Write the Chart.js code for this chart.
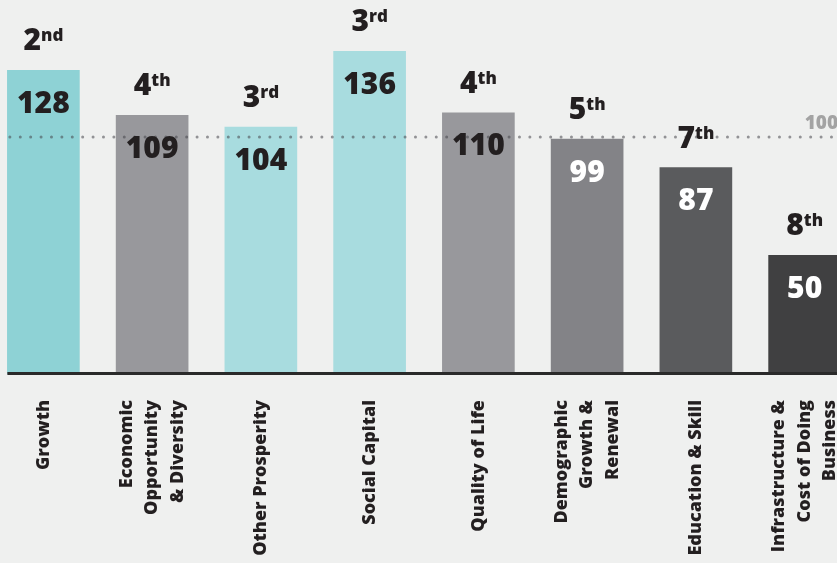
<!DOCTYPE html>
<html>
<head>
<meta charset="utf-8">
<script src="https://cdn.jsdelivr.net/npm/chart.js@4"></script>
<style>
  html, body { margin: 0; padding: 0; background: #eff0ef; overflow: hidden; }
  #wrap { position: relative; width: 837px; height: 563px; overflow: hidden; }
  #chart { position: absolute; left: -11px; top: 0; }
</style>
</head>
<body>
<div id="wrap"><canvas id="chart" width="870" height="563"></canvas></div>
<script>
const categories = [
  ["Growth"],
  ["Economic", "Opportunity", "& Diversity"],
  ["Other Prosperity"],
  ["Social Capital"],
  ["Quality of Life"],
  ["Demographic", "Growth &", "Renewal"],
  ["Education & Skill"],
  ["Infrastructure &", "Cost of Doing", "Business"],
];
const scores = [128, 109, 104, 136, 110, 99, 87, 50];
const ranks = ["2nd", "4th", "3rd", "3rd", "4th", "5th", "7th", "8th"];
const barColors = ["#8ed2d5", "#98989c", "#a8dcdf", "#a8dcdf", "#98989c", "#838387", "#5a5b5d", "#404041"];
const valueColors = ["#231f20", "#231f20", "#231f20", "#231f20", "#231f20", "#ffffff", "#ffffff", "#ffffff"];
const referenceValue = 100;

const FONT = "'Open Sans', sans-serif";

const overlay = {
  id: "overlay",
  afterDatasetsDraw(chart) {
    const ctx = chart.ctx;
    const area = chart.chartArea;
    const y = chart.scales.y;
    const bars = chart.getDatasetMeta(0).data;
    const left = bars[0].x - bars[0].width / 2;

    // baseline
    ctx.save();
    ctx.fillStyle = "#2a2a2a";
    ctx.fillRect(left, area.bottom - 2, chart.width - left, 3);

    // dotted 100 line
    const ry = Math.round(y.getPixelForValue(referenceValue));
    ctx.strokeStyle = "rgba(70,70,75,0.55)";
    ctx.lineWidth = 3;
    ctx.lineCap = "round";
    ctx.setLineDash([0, 10.4]);
    ctx.beginPath();
    ctx.moveTo(left + 2.5, ry);
    ctx.lineTo(chart.width, ry);
    ctx.stroke();
    ctx.setLineDash([]);

    ctx.fillStyle = "#a3a3a3";
    ctx.font = "800 19px " + FONT;
    ctx.textAlign = "left";
    ctx.textBaseline = "alphabetic";
    ctx.fillText(String(referenceValue), bars[bars.length - 1].x, ry - 8);

    bars.forEach((bar, i) => {
      // value inside bar
      ctx.fillStyle = valueColors[i];
      ctx.font = "800 30px " + FONT;
      ctx.textAlign = "center";
      ctx.textBaseline = "middle";
      ctx.fillText(String(scores[i]), bar.x, bar.y + 34);

      // rank above bar
      const num = ranks[i].slice(0, -2);
      const suf = ranks[i].slice(-2);
      ctx.font = "800 30px " + FONT;
      const wn = ctx.measureText(num).width;
      ctx.font = "800 17px " + FONT;
      const ws = ctx.measureText(suf).width;
      const x0 = bar.x - (wn + ws) / 2;
      const base = bar.y - 20;
      ctx.fillStyle = "#231f20";
      ctx.textAlign = "left";
      ctx.textBaseline = "alphabetic";
      ctx.font = "800 30px " + FONT;
      ctx.fillText(num, x0, base);
      ctx.font = "800 17px " + FONT;
      ctx.fillText(suf, x0 + wn, base - 9);

      // category label, rotated
      const lines = categories[i];
      const lh = 25.5;
      ctx.font = "800 18px " + FONT;
      ctx.textAlign = "right";
      ctx.textBaseline = "middle";
      lines.forEach((line, k) => {
        const lx = bar.x + (k - (lines.length - 1) / 2) * lh;
        ctx.save();
        ctx.translate(lx, area.bottom + 26);
        ctx.rotate(-Math.PI / 2);
        ctx.fillText(line, 0, 0);
        ctx.restore();
      });
    });
    ctx.restore();
  },
};

new Chart(document.getElementById("chart"), {
  type: "bar",
  data: {
    labels: categories.map((c) => c.join(" ")),
    datasets: [
      {
        data: scores,
        backgroundColor: barColors,
        barThickness: 72,
        borderWidth: 0,
      },
    ],
  },
  options: {
    responsive: false,
    animation: false,
    layout: { padding: { top: 18, bottom: 189, left: 0, right: 0 } },
    plugins: { legend: { display: false }, tooltip: { enabled: false } },
    scales: {
      x: { display: false },
      y: { display: false, min: 0, max: 150 },
    },
  },
  plugins: [overlay],
});
</script>
</body>
</html>
